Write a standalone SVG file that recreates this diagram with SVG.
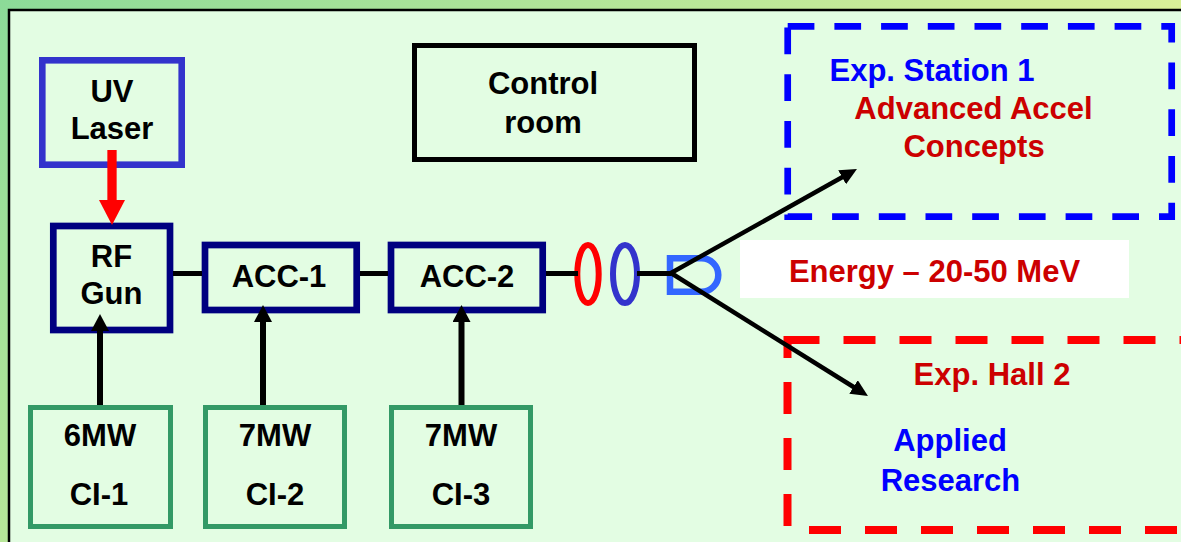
<svg xmlns="http://www.w3.org/2000/svg" width="1181" height="542" viewBox="0 0 1181 542">
  <defs>
    <linearGradient id="bg" gradientUnits="userSpaceOnUse" x1="0" y1="0" x2="503" y2="605">
      <stop offset="0" stop-color="#8cdb98"/>
      <stop offset="1" stop-color="#dcf098"/>
    </linearGradient>
    <marker id="ah" markerUnits="userSpaceOnUse" markerWidth="18" markerHeight="18" viewBox="0 0 18 18" refX="1" refY="9" orient="auto">
      <path d="M0,0 L17,9 L0,18 Z" fill="#000"/>
    </marker>
    <marker id="ahd" markerUnits="userSpaceOnUse" markerWidth="18" markerHeight="16" viewBox="0 0 18 16" refX="1" refY="8" orient="auto">
      <path d="M0,0 L17,8 L0,16 Z" fill="#000"/>
    </marker>
    <marker id="ahr" markerUnits="userSpaceOnUse" markerWidth="26" markerHeight="26" viewBox="0 0 26 26" refX="1" refY="13" orient="auto">
      <path d="M0,0 L25,13 L0,26 Z" fill="#ff0000"/>
    </marker>
  </defs>
  <style>
    text { font-family: "Liberation Sans", Arial, sans-serif; font-weight: bold; font-size: 31px; text-anchor: middle; }
    .blk { fill: #000; }
    .red { fill: #cc0000; }
    .blue { fill: #0000ff; }
    .nav { fill: none; stroke: #000080; stroke-width: 6.7; }
    .ci { fill: none; stroke: #339966; stroke-width: 5; }
    .beam { stroke: #000; stroke-width: 5; fill: none; }
    .feed { stroke: #000; stroke-width: 6; fill: none; marker-end: url(#ah); }
    .diag { stroke: #000; stroke-width: 4.5; fill: none; marker-end: url(#ahd); }
    .reddash { stroke: #ff0000; stroke-width: 8; fill: none; stroke-dasharray: 32 24; }
  </style>

  <rect x="0" y="0" width="1181" height="542" fill="url(#bg)"/>
  <rect x="9" y="10" width="1200" height="600" fill="#e3fde3" stroke="#000" stroke-width="2.5"/>

  <g id="uv-laser">
    <rect x="42.3" y="60.3" width="139.4" height="104.4" fill="none" stroke="#3333cc" stroke-width="6.6"/>
    <text x="112" y="102" class="blk">UV</text>
    <text x="112" y="139" class="blk">Laser</text>
  </g>

  <g id="rf-gun">
    <rect x="53.3" y="226" width="116.7" height="104" class="nav"/>
    <text x="111.5" y="267" class="blk">RF</text>
    <text x="111.5" y="304" class="blk">Gun</text>
  </g>

  <g id="acc-1">
    <rect x="205" y="245" width="151.7" height="65" class="nav"/>
    <text x="279" y="286.5" class="blk">ACC-1</text>
  </g>

  <g id="acc-2">
    <rect x="391" y="245" width="151.7" height="65" class="nav"/>
    <text x="467" y="286.5" class="blk">ACC-2</text>
  </g>

  <g id="control-room">
    <rect x="414.5" y="45.5" width="280" height="114" fill="none" stroke="#000" stroke-width="5"/>
    <text x="543" y="94" class="blk">Control</text>
    <text x="543" y="133" class="blk">room</text>
  </g>

  <g id="exp-station-1">
    <rect x="787.7" y="26.3" width="384" height="190.4" fill="none" stroke="#0000ff" stroke-width="6.7" stroke-dasharray="26.7 20"/>
    <text x="932" y="81" class="blue">Exp. Station 1</text>
    <text x="973.5" y="119" class="red">Advanced Accel</text>
    <text x="974" y="157" class="red">Concepts</text>
  </g>

  <g id="exp-hall-2">
    <path d="M787.5,340 H1200" class="reddash"/>
    <path d="M787.5,336 V530" class="reddash" stroke-dashoffset="10"/>
    <path d="M787.5,530 H1200" class="reddash" stroke-dashoffset="34.5"/>
    <text x="992" y="385" class="red">Exp. Hall 2</text>
    <text x="950" y="451" class="blue">Applied</text>
    <text x="950.5" y="491" class="blue">Research</text>
  </g>

  <g id="energy-label">
    <rect x="740" y="240" width="389" height="58" fill="#ffffff"/>
    <text x="934.5" y="282" class="red">Energy – 20-50 MeV</text>
  </g>

  <g id="ci-1">
    <rect x="30.5" y="407.5" width="140" height="119" class="ci"/>
    <text x="100" y="446" class="blk">6MW</text>
    <text x="99" y="504.5" class="blk">CI-1</text>
  </g>

  <g id="ci-2">
    <rect x="205.5" y="407.5" width="139" height="119" class="ci"/>
    <text x="275" y="446" class="blk">7MW</text>
    <text x="275" y="504.5" class="blk">CI-2</text>
  </g>

  <g id="ci-3">
    <rect x="391.5" y="407.5" width="139" height="119" class="ci"/>
    <text x="461" y="446" class="blk">7MW</text>
    <text x="461" y="504.5" class="blk">CI-3</text>
  </g>

  <g id="magnets">
    <ellipse cx="588" cy="274" rx="10.7" ry="29" fill="none" stroke="#ff0000" stroke-width="6"/>
    <ellipse cx="625" cy="274" rx="12" ry="29" fill="none" stroke="#3333cc" stroke-width="6"/>
    <path d="M670,258.3 H701.6 A16.7,16.7 0 0 1 701.6,291.7 H670 Z" fill="none" stroke="#3366ff" stroke-width="6.5"/>
  </g>

  <g id="connectors">
    <line x1="112" y1="150" x2="112" y2="201" stroke="#ff0000" stroke-width="9.3" marker-end="url(#ahr)"/>
    <line x1="173" y1="273.5" x2="202" y2="273.5" class="beam"/>
    <line x1="360" y1="273.5" x2="388" y2="273.5" class="beam"/>
    <line x1="546" y1="273.5" x2="578" y2="273.5" class="beam"/>
    <line x1="637" y1="273.5" x2="671" y2="273.5" class="beam"/>
    <line x1="100" y1="405" x2="100" y2="330" class="feed"/>
    <line x1="263" y1="405" x2="263" y2="321" class="feed"/>
    <line x1="461.5" y1="405" x2="461.5" y2="321" class="feed"/>
    <line x1="671" y1="273" x2="843" y2="176.8" class="diag"/>
    <line x1="671" y1="273" x2="854.4" y2="387.5" class="diag"/>
  </g>
</svg>
